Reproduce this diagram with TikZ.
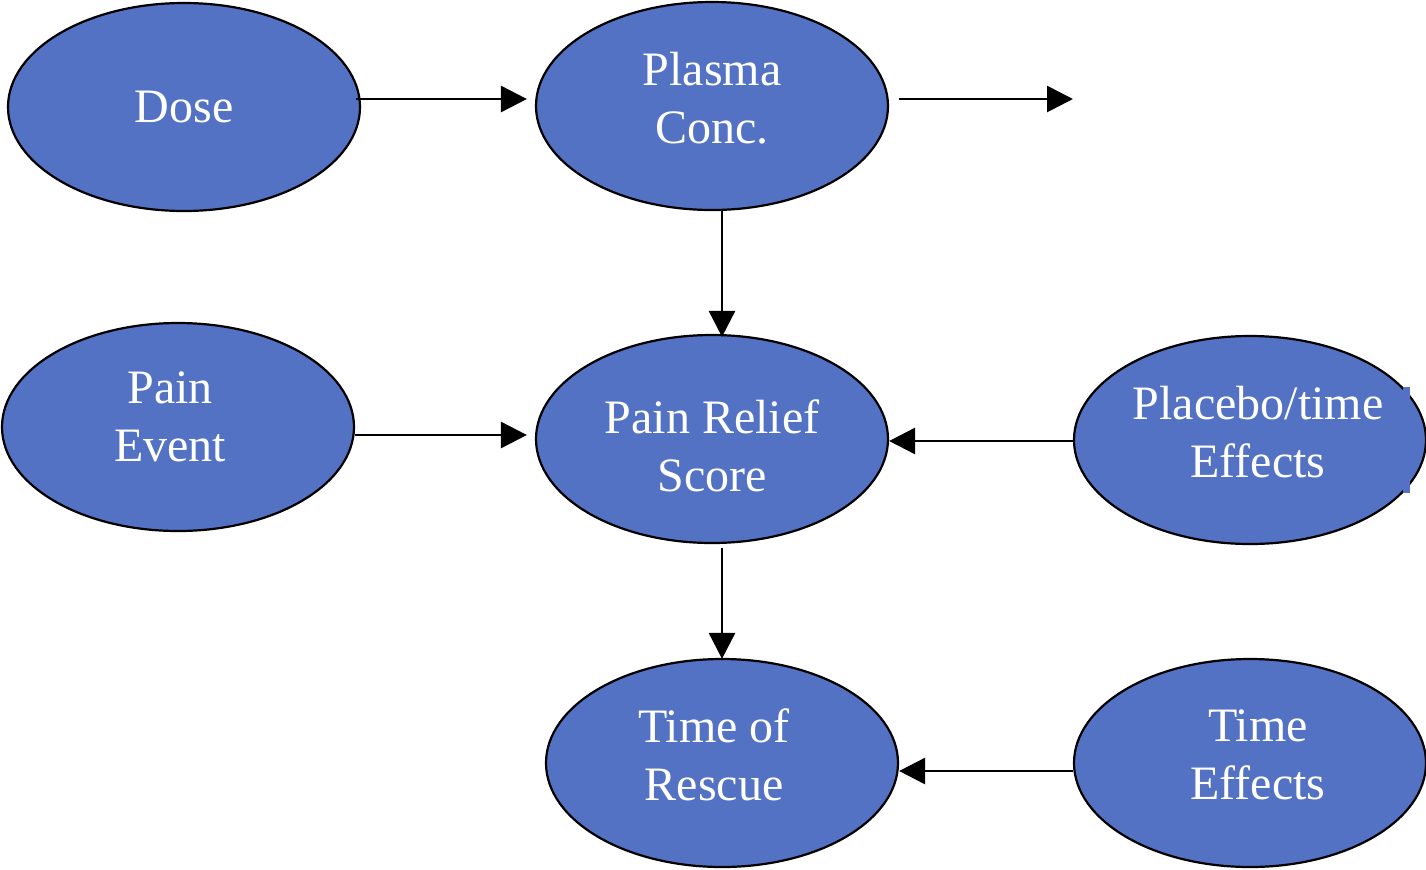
\documentclass[tikz,border=0pt]{standalone}
\usepackage{fontspec}
\setmainfont{Liberation Serif}
\usetikzlibrary{shapes.geometric,arrows.meta,calc}
\definecolor{nodeblue}{RGB}{84,114,196}
\begin{document}
\begin{tikzpicture}[x=1pt,y=1pt,
  oval/.style={ellipse,draw=black,line width=1.1pt,fill=nodeblue,minimum width=176pt,minimum height=104pt,inner sep=0pt},
  txt/.style={text=white,align=center,inner sep=0pt,font=\fontsize{24}{29}\selectfont},
  arr/.style={line width=1.4pt,-{Triangle[length=13pt,width=13pt]}}]
\useasboundingbox (0,0) rectangle (713,-434.5);
\node[oval,label={[txt]center:Dose}] (dose) at (92,-53.5) {};
\node[oval,label={[txt,yshift=4]center:Plasma\\Conc.}] (plasma) at (356,-53) {};
\node[oval,label={[txt,xshift=-4,yshift=5]center:Pain\\Event}] (event) at (89,-213.5) {};
\node[oval,label={[txt,yshift=-3.5]center:Pain Relief\\Score}] (relief) at (356,-219.5) {};
\node[oval,label={[txt,xshift=4,yshift=4]center:Placebo/time\\Effects}] (placebo) at (625,-220) {};
\node[oval,label={[txt,xshift=-4,yshift=4]center:Time of\\Rescue}] (rescue) at (361,-381.5) {};
\node[oval,label={[txt,xshift=4,yshift=4]center:Time\\Effects}] (teff) at (625,-381.5) {};
\fill[nodeblue] (701.5,-193.5) rectangle (705,-246.5);
\coordinate (free) at (536.5,-49.5);
\draw[arr] ($(dose.east)+(-2.5,4)$) -- ($(plasma.west)+(-4,3.5)$);
\draw[arr] ($(plasma.east)+(5,3.5)$) -- (free);
\draw[arr] ($(plasma.south)+(5,0)$) -- ($(relief.north)+(5,-1.5)$);
\draw[arr] ($(event.east)+(0,-4)$) -- ($(relief.west)+(-4,2)$);
\draw[arr] ($(placebo.west)+(0,-0.5)$) -- ($(relief.east)+(0,-1)$);
\draw[arr] ($(relief.south)+(5,-2)$) -- ($(rescue.north)+(0,-0.5)$);
\draw[arr] ($(teff.west)+(0,-4)$) -- ($(rescue.east)+(0,-4)$);
\end{tikzpicture}
\end{document}
